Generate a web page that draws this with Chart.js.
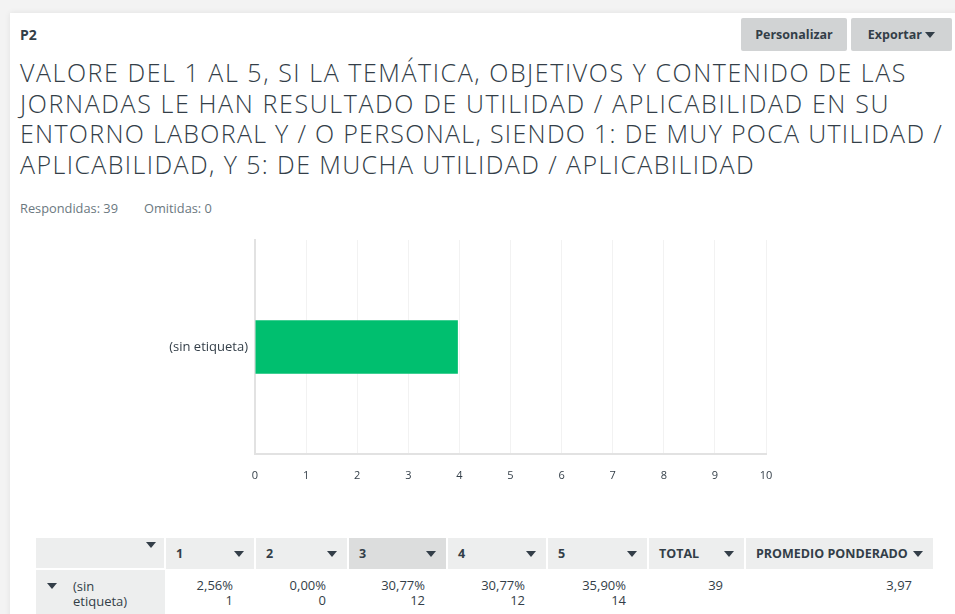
<!DOCTYPE html>
<html>
<head>
<meta charset="utf-8">
<script src="https://cdn.jsdelivr.net/npm/chart.js@4/dist/chart.umd.min.js"></script>
<style>
  html, body { margin: 0; padding: 0; }
  body { width: 955px; height: 614px; overflow: hidden; background: #f3f3f3; font-family: "Open Sans", Roboto, sans-serif; color: #333e48; position: relative; }
  .card { position: absolute; left: 10px; top: 13px; width: 960px; height: 620px; background: #fff; box-shadow: 0 0 6px rgba(0,0,0,0.08); }
  .abs { position: absolute; white-space: nowrap; }
  #qnum { left: 20px; top: 25px; font-weight: 700; font-size: 14px; }
  .btn { top: 18px; height: 33px; line-height: 33px; background: #d1d3d4; border-radius: 2px; font-size: 12.5px; font-weight: 700; text-align: center; color: #333e48; }
  .tri { display: inline-block; width: 0; height: 0; border-left: 5px solid transparent; border-right: 5px solid transparent; border-top: 6px solid #333e48; vertical-align: middle; }
  #title { left: 20px; top: 57px; font-size: 25px; font-weight: 300; line-height: 30.5px; color: #333e48; }
  #title div { white-space: nowrap; }
  #stats { left: 20px; top: 199px; font-size: 12.8px; color: #6b787f; }
  #chartBox { position: absolute; left: 140px; top: 230px; width: 640px; height: 260px; }
  table { position: absolute; left: 36px; top: 538px; border-collapse: collapse; table-layout: fixed; font-size: 13px; }
  th { background: #edeeee; height: 30px; padding: 0 0 0 10px; text-align: left; font-size: 12.5px; font-weight: 700; border-right: 2px solid #fff; position: relative; }
  th.sel { background: #dcdddd; }
  th .tri { position: absolute; right: 10px; top: 13px; }
  th.first .tri { top: 4px; right: 8px; }
  td { vertical-align: top; padding: 9px 22px 0 0; text-align: right; line-height: 15px; height: 46px; }
  td.lab { background: #edeeee; text-align: left; padding-left: 0; position: relative; border-top: 2px solid #fff; }
</style>
</head>
<body>
<div class="card"></div>
<div class="abs" id="qnum">P2</div>
<div class="abs btn" style="left:741px;width:106px;">Personalizar</div>
<div class="abs btn" style="left:851px;width:101px;">Exportar <span class="tri" style="margin-top:-2px"></span></div>
<div class="abs" id="title">
  <div><span>VALORE DEL 1 AL 5, SI LA TEMÁTICA, OBJETIVOS Y CONTENIDO DE LAS</span></div>
  <div><span>JORNADAS LE HAN RESULTADO DE UTILIDAD / APLICABILIDAD EN SU</span></div>
  <div><span>ENTORNO LABORAL Y / O PERSONAL, SIENDO 1: DE MUY POCA UTILIDAD /</span></div>
  <div><span>APLICABILIDAD, Y 5: DE MUCHA UTILIDAD / APLICABILIDAD</span></div>
</div>
<div class="abs" id="stats">Respondidas: 39<span style="display:inline-block;width:26px"></span>Omitidas: 0</div>
<div id="chartBox"><canvas id="c"></canvas></div>
<table id="tbl">
  <colgroup id="cols"></colgroup>
  <thead><tr id="head"></tr></thead>
  <tbody><tr id="row"></tr></tbody>
</table>
<script>
const CATEGORIES = ['(sin etiqueta)'];
const AVERAGES = [3.97];
const X_MIN = 0, X_MAX = 10;

const COLUMNS = ['1', '2', '3', '4', '5'];
const PERCENTS = ['2,56%', '0,00%', '30,77%', '30,77%', '35,90%'];
const COUNTS = [1, 0, 12, 12, 14];
const TOTAL = 39;
const WEIGHTED_AVG = '3,97';

// ajustar cada línea del título al ancho medido en la referencia
const lineWidths = [887, 870, 923, 735];
document.querySelectorAll('#title span').forEach((sp, i) => {
  const w = sp.getBoundingClientRect().width;
  sp.style.letterSpacing = ((lineWidths[i] - w) / sp.textContent.length) + 'px';
});

// tabla
const widths = [129, 90, 93, 99, 100, 101, 97, 189];
document.getElementById('cols').innerHTML = widths.map(w => `<col style="width:${w}px">`).join('');
const heads = [''].concat(COLUMNS, ['TOTAL', 'PROMEDIO PONDERADO']);
document.getElementById('head').innerHTML = heads.map((h, i) =>
  `<th class="${i === 0 ? 'first' : ''}${i === 3 ? ' sel' : ''}">${h}<span class="tri"></span></th>`).join('');
let cells = `<td class="lab"><span class="tri" style="position:absolute;left:11px;top:13px;"></span><div style="padding:0 0 0 37px;">(sin<br>etiqueta)</div></td>`;
cells += COLUMNS.map((c, i) => `<td>${PERCENTS[i]}<br>${COUNTS[i]}</td>`).join('');
cells += `<td>${TOTAL}</td><td>${WEIGHTED_AVG}</td>`;
document.getElementById('row').innerHTML = cells;

// gráfico
new Chart(document.getElementById('c'), {
  type: 'bar',
  data: {
    labels: CATEGORIES,
    datasets: [{
      data: AVERAGES,
      backgroundColor: '#00bf6f',
      borderWidth: 0,
      categoryPercentage: 1,
      barPercentage: 0.25
    }]
  },
  options: {
    indexAxis: 'y',
    responsive: true,
    maintainAspectRatio: false,
    animation: false,
    layout: {padding: {top: 10, right: 14, left: 0, bottom: 0}},
    plugins: {legend: {display: false}, tooltip: {enabled: false}},
    scales: {
      x: {
        min: X_MIN, max: X_MAX,
        afterFit: s => { s.height = 36; s.paddingLeft = 0; s.paddingRight = 0; },
        ticks: {stepSize: 1, padding: 15, color: '#333e48', font: {family: "'Open Sans'", size: 11}},
        grid: {color: '#f2f2f2', drawTicks: false},
        border: {color: '#e2e2e2', width: 2}
      },
      y: {
        afterFit: s => { s.width = 115; s.paddingTop = 0; s.paddingBottom = 0; },
        ticks: {padding: 7, color: '#333e48', font: {family: "'Open Sans'", size: 13}},
        grid: {display: false, drawTicks: false},
        border: {color: '#e2e2e2', width: 2}
      }
    }
  }
});
</script>
</body>
</html>
